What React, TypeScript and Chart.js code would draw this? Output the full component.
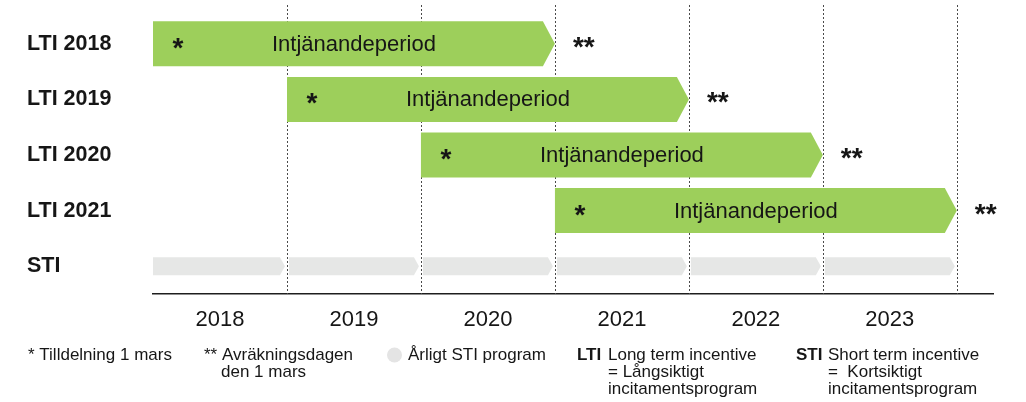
import React, { useEffect, useRef } from 'react';
import { Chart, registerables } from 'chart.js';

Chart.register(...registerables);

// ---- data ----
const categories = ['LTI 2018', 'LTI 2019', 'LTI 2020', 'LTI 2021', 'STI'];
const ltiRows = ['LTI 2018', 'LTI 2019', 'LTI 2020', 'LTI 2021'];
const ltiStart = [2018, 2019, 2020, 2021];
const ltiEnd = [2021, 2022, 2023, 2024];
const stiStart = [2018, 2019, 2020, 2021, 2022, 2023];
const stiEnd = [2019, 2020, 2021, 2022, 2023, 2024];
const yearLabels = ['2018', '2019', '2020', '2021', '2022', '2023'];
const yearCenters = [2018.5, 2019.5, 2020.5, 2021.5, 2022.5, 2023.5];
const gridYears = [2019, 2020, 2021, 2022, 2023, 2024];
const xMin = 2018;
const xMax = 2024.27;
const barLabel = 'Intjänandeperiod';
const startMark = '*';
const endMark = '**';

const GREEN = '#9dcf5b';
const GREY = '#e6e7e6';
const TEXT = '#161616';
const FONT = '"Liberation Sans", Arial, Helvetica, sans-serif';

type LegendPiece = { text: string; x: number; line: number; bold?: boolean };
const legendPieces: LegendPiece[] = [
  { text: '* Tilldelning 1 mars', x: 28, line: 0 },
  { text: '** Avräkningsdagen', x: 204, line: 0 },
  { text: 'den 1 mars', x: 221, line: 1 },
  { text: 'Årligt STI program', x: 408, line: 0 },
  { text: 'LTI', x: 577, line: 0, bold: true },
  { text: 'Long term incentive', x: 608, line: 0 },
  { text: '= Långsiktigt', x: 608, line: 1 },
  { text: 'incitamentsprogram', x: 608, line: 2 },
  { text: 'STI', x: 796, line: 0, bold: true },
  { text: 'Short term incentive', x: 828, line: 0 },
  { text: '=  Kortsiktigt', x: 828, line: 1 },
  { text: 'incitamentsprogram', x: 828, line: 2 },
];

const arrowPlugin = {
  id: 'arrowBars',
  beforeDatasetsDraw(chart: any) {
    const { ctx, chartArea } = chart;
    const xs = chart.scales.x;
    ctx.save();
    ctx.strokeStyle = '#4a4a4a';
    ctx.lineWidth = 1;
    ctx.setLineDash([2, 2]);
    gridYears.forEach((yr) => {
      const px = Math.round(xs.getPixelForValue(yr)) + 0.5;
      ctx.beginPath();
      ctx.moveTo(px, chartArea.top - 11);
      ctx.lineTo(px, chartArea.bottom);
      ctx.stroke();
    });
    ctx.restore();
  },
  afterDatasetsDraw(chart: any) {
    const { ctx } = chart;
    chart.data.datasets.forEach((ds: any, di: number) => {
      const meta = chart.getDatasetMeta(di);
      meta.data.forEach((el: any, i: number) => {
        const p = el.getProps(['x', 'y', 'base', 'height'], true);
        const gs = ds.arrowKind === 'sti' && i > 0 ? 2 : 0;
        const ge = ds.arrowKind === 'sti' ? 2 : 0;
        const left = Math.min(p.x, p.base) + gs;
        const right = Math.max(p.x, p.base) - ge;
        const h = p.height / 2;
        const tip = ds.arrowKind === 'sti' ? 5 : 12;
        const y = p.y;
        ctx.save();
        ctx.fillStyle = ds.arrowColor;
        ctx.beginPath();
        ctx.moveTo(left, y - h);
        ctx.lineTo(right - tip, y - h);
        ctx.lineTo(right, y);
        ctx.lineTo(right - tip, y + h);
        ctx.lineTo(left, y + h);
        ctx.closePath();
        ctx.fill();
        if (ds.arrowKind === 'lti') {
          ctx.fillStyle = TEXT;
          ctx.font = `22px ${FONT}`;
          ctx.textAlign = 'center';
          ctx.textBaseline = 'middle';
          ctx.fillText(barLabel, (left + right) / 2, y + 1);
          ctx.font = `bold 28px ${FONT}`;
          ctx.textBaseline = 'alphabetic';
          ctx.fillText(startMark, left + 25, y + 13);
          ctx.textAlign = 'left';
          ctx.fillText(endMark, right + 18, y + 12);
        }
        ctx.restore();
      });
    });
  },
  afterDraw(chart: any) {
    const { ctx } = chart;
    const baselines = [360, 377, 394];
    ctx.save();
    ctx.fillStyle = '#e4e4e4';
    ctx.beginPath();
    ctx.arc(394.5, 355, 7.5, 0, Math.PI * 2);
    ctx.fill();
    ctx.fillStyle = TEXT;
    ctx.textAlign = 'left';
    ctx.textBaseline = 'alphabetic';
    legendPieces.forEach((lp) => {
      ctx.font = `${lp.bold ? 'bold ' : ''}17px ${FONT}`;
      ctx.fillText(lp.text, lp.x, baselines[lp.line]);
    });
    ctx.restore();
  },
};

export default function App() {
  const ref = useRef<HTMLCanvasElement | null>(null);

  useEffect(() => {
    document.body.style.margin = '0';
    document.body.style.overflow = 'hidden';
    if (!ref.current) return;
    const chart = new Chart(ref.current, {
      type: 'bar',
      data: {
        labels: categories,
        datasets: [
          {
            label: 'LTI',
            data: ltiRows.map((r, i) => ({ y: r, x: [ltiStart[i], ltiEnd[i]] })) as any,
            backgroundColor: 'rgba(0,0,0,0)',
            barThickness: 45,
            grouped: false,
            arrowColor: GREEN,
            arrowKind: 'lti',
          } as any,
          {
            label: 'STI',
            data: stiStart.map((s, i) => ({ y: 'STI', x: [s, stiEnd[i]] })) as any,
            backgroundColor: 'rgba(0,0,0,0)',
            barThickness: 18,
            grouped: false,
            arrowColor: GREY,
            arrowKind: 'sti',
          } as any,
        ],
      },
      options: {
        indexAxis: 'y',
        animation: false,
        responsive: true,
        maintainAspectRatio: false,
        layout: { padding: { left: 27, right: 33, top: 16, bottom: 68 } },
        plugins: { legend: { display: false }, tooltip: { enabled: false } },
        scales: {
          x: {
            type: 'linear',
            min: xMin,
            max: xMax,
            grid: { display: false },
            border: { display: true, color: '#1e1e1e', width: 1.5 },
            afterBuildTicks: (scale: any) => {
              scale.ticks = yearCenters.map((v) => ({ value: v }));
            },
            afterFit: (scale: any) => {
              scale.height = 40;
            },
            ticks: {
              padding: 5,
              color: TEXT,
              font: { family: FONT, size: 22 },
              maxRotation: 0,
              autoSkip: false,
              callback: (v: any) => {
                const idx = yearCenters.indexOf(Number(v));
                return idx >= 0 ? yearLabels[idx] : '';
              },
            },
          },
          y: {
            type: 'category',
            grid: { display: false },
            border: { display: false },
            afterFit: (scale: any) => {
              scale.width = 126;
            },
            ticks: {
              crossAlign: 'far',
              color: TEXT,
              font: { family: FONT, size: 21.5, weight: 'bold' },
            },
          },
        },
      } as any,
      plugins: [arrowPlugin],
    });
    return () => chart.destroy();
  }, []);

  return (
    <div style={{ position: 'relative', width: '1026px', height: '402px' }}>
      <canvas ref={ref} />
    </div>
  );
}
